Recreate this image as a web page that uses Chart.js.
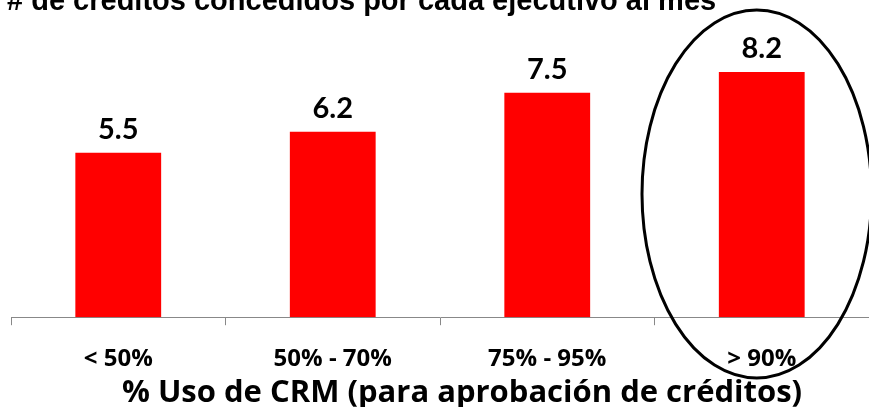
<!DOCTYPE html>
<html><head><meta charset="utf-8">
<script src="https://cdn.jsdelivr.net/npm/chart.js@4/dist/chart.umd.min.js"></script>
<style>html,body{margin:0;padding:0;background:#fff;overflow:hidden}canvas{display:block}</style>
</head><body>
<canvas id="c" width="869" height="407"></canvas>
<script>
const categories = ["< 50%", "50% - 70%", "75% - 95%", "> 90%"];
const values = [5.5, 6.2, 7.5, 8.2];
const chartTitle = "# de créditos concedidos por cada ejecutivo al mes";
const xTitle = "% Uso de CRM (para aprobación de créditos)";
const highlightIndex = 3;

const overlay = {
  id: 'overlay',
  afterDraw(chart) {
    const ctx = chart.ctx;
    ctx.save();
    ctx.fillStyle = '#000';
    ctx.font = 'bold 29px "Liberation Sans", Arial, sans-serif';
    ctx.textBaseline = 'alphabetic';
    ctx.textAlign = 'left';
    ctx.fillText(chartTitle, 7, 10);
    // x axis title
    ctx.font = 'bold 31px "Open Sans", sans-serif';
    ctx.textAlign = 'center';
    ctx.fillText(xTitle, 462, 402);
    // value labels
    const meta = chart.getDatasetMeta(0);
    ctx.font = 'bold 29px Lato, "Open Sans", sans-serif';
    meta.data.forEach((bar, i) => {
      ctx.fillText(values[i].toFixed(1), bar.x, bar.y - 14);
    });
    // highlight ellipse
    const xs = chart.scales.x;
    const cx = xs.getPixelForValue(highlightIndex) - 5;
    const step = xs.getPixelForValue(1) - xs.getPixelForValue(0);
    ctx.beginPath();
    ctx.ellipse(cx, 194, step * 0.535, 184, 0, 0, Math.PI * 2);
    ctx.lineWidth = 3;
    ctx.strokeStyle = '#000';
    ctx.stroke();
    ctx.restore();
  }
};

new Chart(document.getElementById('c'), {
  type: 'bar',
  data: {
    labels: categories,
    datasets: [{ data: values, backgroundColor: '#ff0000', borderWidth: 0,
      categoryPercentage: 1, barPercentage: 0.4 }]
  },
  options: {
    responsive: false,
    animation: false,
    layout: { padding: { left: 11, right: 0, top: 48, bottom: 13 } },
    plugins: { legend: { display: false }, tooltip: { enabled: false } },
    scales: {
      y: { display: false, min: 0, max: 9 },
      x: {
        offset: true,
        grid: { offset: true, drawOnChartArea: false, drawTicks: true, tickLength: 8, color: '#888', lineWidth: 1 },
        border: { display: true, color: '#888', width: 1 },
        ticks: { color: '#000', font: { family: 'Open Sans', weight: 'bold', size: 24 }, padding: 20 },
        title: { display: false }
      }
    }
  },
  plugins: [overlay]
});
</script>
</body></html>
